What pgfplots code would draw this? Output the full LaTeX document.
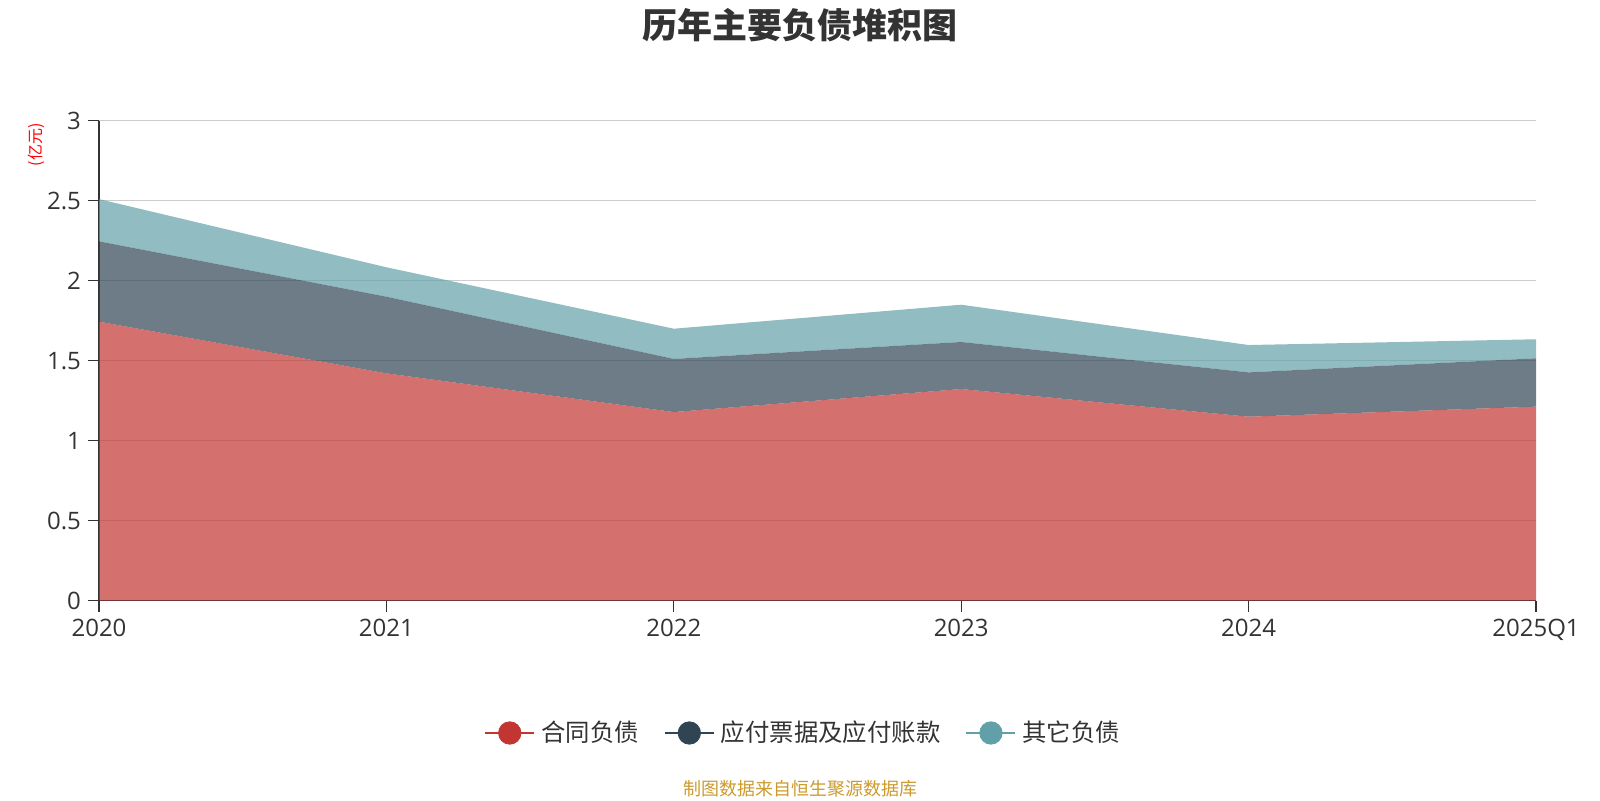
\documentclass[border=0pt]{standalone}
\usepackage{fontspec}
\setmainfont{Noto Sans CJK SC}
\newfontfamily\tickfont{Open Sans}
\usepackage{pgfplots}
\usepackage{pgfplotstable}
\pgfplotsset{compat=1.18}
\definecolor{cred}{HTML}{C23531}
\definecolor{cdark}{HTML}{2F4554}
\definecolor{cteal}{HTML}{61A0A8}
\definecolor{txt}{HTML}{333333}
\definecolor{gridc}{HTML}{CCCCCC}
\definecolor{src}{HTML}{CC9A2E}

\pgfplotstableread{
x a b c
0 1.744 0.502 0.264
1 1.421 0.479 0.184
2 1.179 0.332 0.189
3 1.323 0.294 0.233
4 1.150 0.277 0.171
5 1.213 0.302 0.119
}\datatable

\begin{document}
\begin{tikzpicture}
\useasboundingbox (0,0) rectangle (800pt,400pt);
\begin{axis}[
  scale only axis, width=718.5pt, height=240pt,
  at={(49.5pt,99.65pt)}, anchor=south west,
  xmin=0, xmax=5, ymin=0, ymax=3,
  stack plots=y,
  xtick={0,1,2,3,4,5}, xticklabels={2020,2021,2022,2023,2024,2025Q1},
  ytick={0,0.5,1,1.5,2,2.5,3}, yticklabels={0,0.5,1,1.5,2,2.5,3},
  axis x line*=bottom, axis y line*=left,
  every outer x axis line/.append style={-},
  every outer y axis line/.append style={-},
  ymajorgrids, major grid style={gridc, line width=0.7pt},
  tick align=outside, major tick length=5.5pt,
  tick style={txt, line width=0.6pt},
  axis line style={txt, line width=0.6pt, -},
  /pgf/number format/assume math mode=true,
  ticklabel style={font=\tickfont\fontsize{12}{14}\selectfont, text=txt},
  legend style={at={(0.4907,-0.2756)}, anchor=center, draw=none, fill=none,
    legend columns=-1, font=\fontsize{12.2}{14}\selectfont, text=txt,
    /tikz/every even column/.append style={column sep=10.5pt},
    /tikz/every odd column/.append style={column sep=1pt}},
  legend cell align=left,
]
\addplot[draw=none, fill=cred, fill opacity=0.7, forget plot] table[x=x,y=a]{\datatable} \closedcycle;
\addplot[draw=none, fill=cdark, fill opacity=0.7, forget plot] table[x=x,y=b]{\datatable} \closedcycle;
\addplot[draw=none, fill=cteal, fill opacity=0.7, forget plot] table[x=x,y=c]{\datatable} \closedcycle;
\addlegendimage{legend image code/.code={\draw[cred, line width=1pt](0pt,0pt)--(24.5pt,0pt); \fill[cred](12.25pt,0pt) circle (5.6pt);}}
\addlegendentry{合同负债}
\addlegendimage{legend image code/.code={\draw[cdark, line width=1pt](0pt,0pt)--(24.5pt,0pt); \fill[cdark](12.25pt,0pt) circle (5.6pt);}}
\addlegendentry{应付票据及应付账款}
\addlegendimage{legend image code/.code={\draw[cteal, line width=1pt](0pt,0pt)--(24.5pt,0pt); \fill[cteal](12.25pt,0pt) circle (5.6pt);}}
\addlegendentry{其它负债}
\end{axis}
\node[font=\fontsize{17.5}{20}\selectfont\bfseries, text=txt] at (400pt,387.25pt) {历年主要负债堆积图};
\node[rotate=90, text=red, font=\fontsize{8}{9}\selectfont] at (18.4pt,327.5pt) {(亿元)};
\node[font=\fontsize{9}{10}\selectfont, text=src] at (400pt,5.5pt) {制图数据来自恒生聚源数据库};
\end{tikzpicture}
\end{document}
